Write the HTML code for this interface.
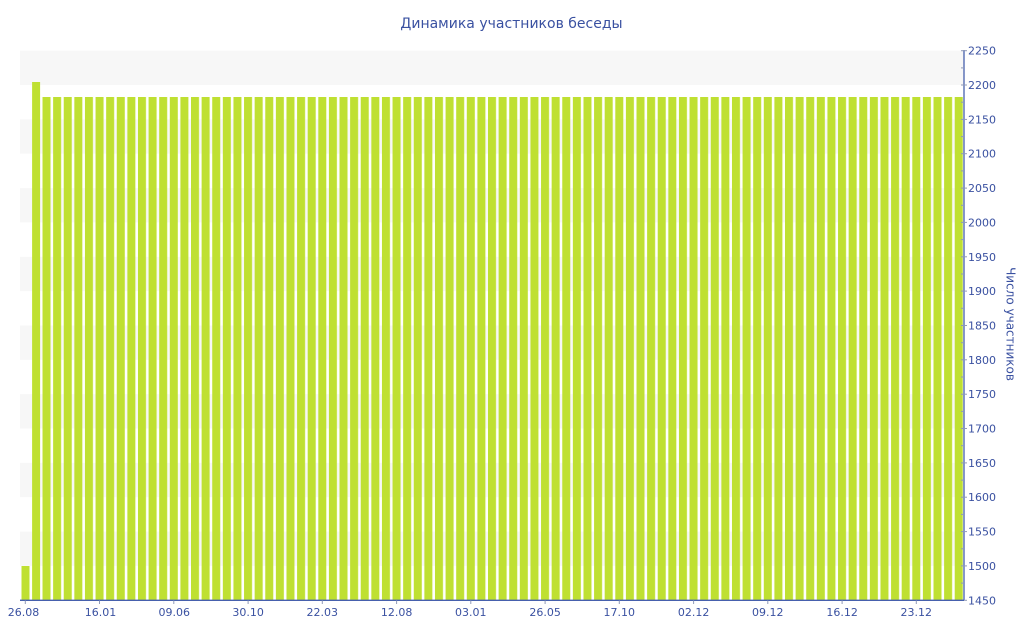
<!DOCTYPE html>
<html>
<head>
<meta charset="utf-8">
<style>
  html, body { margin:0; padding:0; background:#ffffff; }
  svg { display:block; }
  text { font-family: "DejaVu Sans", "Liberation Sans", sans-serif; fill:#3a51a1; }
</style>
</head>
<body>
<svg width="1024" height="640" viewBox="0 0 1024 640" xmlns="http://www.w3.org/2000/svg">
  <defs>
    <pattern id="bars" patternUnits="userSpaceOnUse" x="21.3" y="0" width="10.607" height="640">
      <rect x="0" y="0" width="8" height="640" fill="#bfe032"/>
    </pattern>
  </defs>

  <!-- title -->
  <text x="511.5" y="28" font-size="14" text-anchor="middle">Динамика участников беседы</text>

  <!-- alternating bands -->
  <g fill="#f7f7f7">
    <rect x="20" y="50.7" width="944" height="34.3"/>
    <rect x="20" y="119.4" width="944" height="34.3"/>
    <rect x="20" y="188.1" width="944" height="34.3"/>
    <rect x="20" y="256.8" width="944" height="34.3"/>
    <rect x="20" y="325.5" width="944" height="34.3"/>
    <rect x="20" y="394.2" width="944" height="34.3"/>
    <rect x="20" y="462.9" width="944" height="34.3"/>
    <rect x="20" y="531.6" width="944" height="34.3"/>
  </g>

  <!-- bars -->
  <rect x="21.5" y="566" width="8" height="34.3" fill="#bfe032"/>
  <rect x="32.1" y="82" width="8" height="518.3" fill="#bfe032"/>
  <rect x="42.5" y="97" width="921" height="503.3" fill="url(#bars)"/>

  <!-- right axis -->
  <line x1="964" y1="50" x2="964" y2="600.5" stroke="#4660ad" stroke-width="1.3"/>
  <g stroke="#8f9ab8" stroke-width="1">
    <line x1="961" y1="50.7" x2="967" y2="50.7"/>
    <line x1="961" y1="85" x2="967" y2="85"/>
    <line x1="961" y1="119.4" x2="967" y2="119.4"/>
    <line x1="961" y1="153.7" x2="967" y2="153.7"/>
    <line x1="961" y1="188.1" x2="967" y2="188.1"/>
    <line x1="961" y1="222.4" x2="967" y2="222.4"/>
    <line x1="961" y1="256.8" x2="967" y2="256.8"/>
    <line x1="961" y1="291.1" x2="967" y2="291.1"/>
    <line x1="961" y1="325.5" x2="967" y2="325.5"/>
    <line x1="961" y1="359.8" x2="967" y2="359.8"/>
    <line x1="961" y1="394.2" x2="967" y2="394.2"/>
    <line x1="961" y1="428.5" x2="967" y2="428.5"/>
    <line x1="961" y1="462.9" x2="967" y2="462.9"/>
    <line x1="961" y1="497.2" x2="967" y2="497.2"/>
    <line x1="961" y1="531.6" x2="967" y2="531.6"/>
    <line x1="961" y1="565.9" x2="967" y2="565.9"/>
    <line x1="961" y1="600.3" x2="967" y2="600.3"/>
    <!-- minor -->
    <line x1="961" y1="67.9" x2="964" y2="67.9"/>
    <line x1="961" y1="102.2" x2="964" y2="102.2"/>
    <line x1="961" y1="136.6" x2="964" y2="136.6"/>
    <line x1="961" y1="170.9" x2="964" y2="170.9"/>
    <line x1="961" y1="205.3" x2="964" y2="205.3"/>
    <line x1="961" y1="239.6" x2="964" y2="239.6"/>
    <line x1="961" y1="274" x2="964" y2="274"/>
    <line x1="961" y1="308.3" x2="964" y2="308.3"/>
    <line x1="961" y1="342.7" x2="964" y2="342.7"/>
    <line x1="961" y1="377" x2="964" y2="377"/>
    <line x1="961" y1="411.4" x2="964" y2="411.4"/>
    <line x1="961" y1="445.7" x2="964" y2="445.7"/>
    <line x1="961" y1="480.1" x2="964" y2="480.1"/>
    <line x1="961" y1="514.4" x2="964" y2="514.4"/>
    <line x1="961" y1="548.8" x2="964" y2="548.8"/>
    <line x1="961" y1="583.1" x2="964" y2="583.1"/>
  </g>
  <g font-size="11">
    <text x="968" y="54.7">2250</text>
    <text x="968" y="89">2200</text>
    <text x="968" y="123.4">2150</text>
    <text x="968" y="157.7">2100</text>
    <text x="968" y="192.1">2050</text>
    <text x="968" y="226.4">2000</text>
    <text x="968" y="260.8">1950</text>
    <text x="968" y="295.1">1900</text>
    <text x="968" y="329.5">1850</text>
    <text x="968" y="363.8">1800</text>
    <text x="968" y="398.2">1750</text>
    <text x="968" y="432.5">1700</text>
    <text x="968" y="466.9">1650</text>
    <text x="968" y="501.2">1600</text>
    <text x="968" y="535.6">1550</text>
    <text x="968" y="569.9">1500</text>
    <text x="968" y="604.3">1450</text>
  </g>
  <text transform="translate(1006.5,324) rotate(90)" font-size="12" text-anchor="middle">Число участников</text>

  <!-- bottom axis -->
  <line x1="20" y1="600.3" x2="964" y2="600.3" stroke="#4660ad" stroke-width="1.3"/>
  <g stroke="#8f9ab8" stroke-width="1">
    <line x1="25.3" y1="600.5" x2="25.3" y2="604"/>
    <line x1="99.5" y1="600.5" x2="99.5" y2="604"/>
    <line x1="173.8" y1="600.5" x2="173.8" y2="604"/>
    <line x1="248.1" y1="600.5" x2="248.1" y2="604"/>
    <line x1="322.3" y1="600.5" x2="322.3" y2="604"/>
    <line x1="396.6" y1="600.5" x2="396.6" y2="604"/>
    <line x1="470.8" y1="600.5" x2="470.8" y2="604"/>
    <line x1="545.1" y1="600.5" x2="545.1" y2="604"/>
    <line x1="619.3" y1="600.5" x2="619.3" y2="604"/>
    <line x1="693.6" y1="600.5" x2="693.6" y2="604"/>
    <line x1="767.8" y1="600.5" x2="767.8" y2="604"/>
    <line x1="842.1" y1="600.5" x2="842.1" y2="604"/>
    <line x1="916.3" y1="600.5" x2="916.3" y2="604"/>
  </g>
  <g font-size="11" text-anchor="middle">
    <text x="23.5" y="616">26.08</text>
    <text x="100.5" y="616">16.01</text>
    <text x="174.3" y="616">09.06</text>
    <text x="248.1" y="616">30.10</text>
    <text x="322.3" y="616">22.03</text>
    <text x="396.6" y="616">12.08</text>
    <text x="470.8" y="616">03.01</text>
    <text x="545.1" y="616">26.05</text>
    <text x="619.3" y="616">17.10</text>
    <text x="693.6" y="616">02.12</text>
    <text x="767.8" y="616">09.12</text>
    <text x="842.1" y="616">16.12</text>
    <text x="916.3" y="616">23.12</text>
  </g>
</svg>
</body>
</html>
